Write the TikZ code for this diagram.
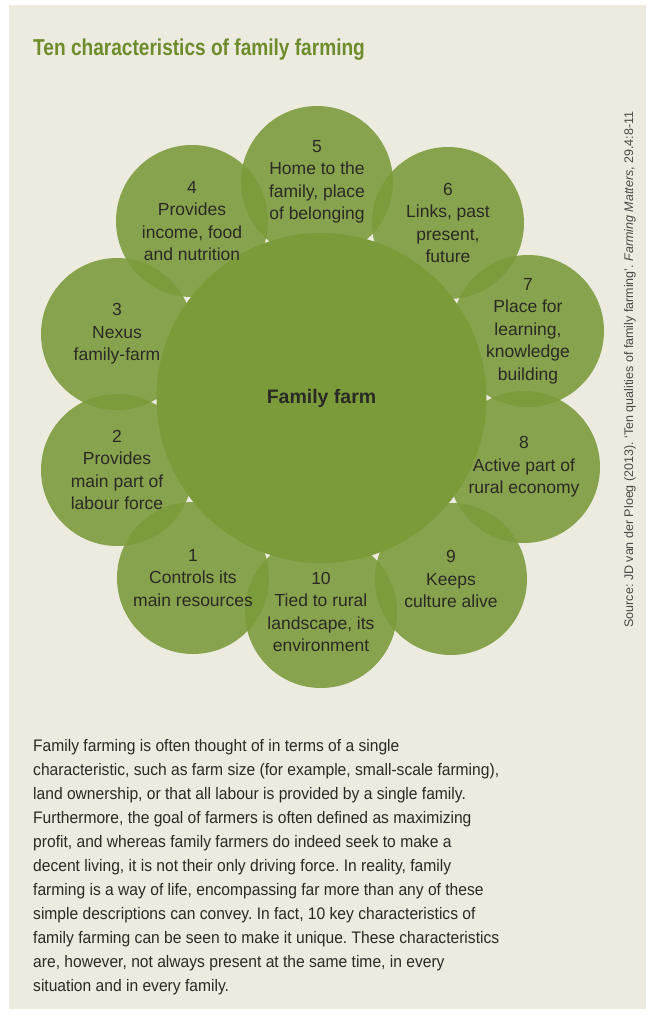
\documentclass[tikz,border=0pt]{standalone}
\usepackage{fontspec}
\setmainfont{Liberation Sans}
\newfontfamily\titlefont{Liberation Sans}[FakeStretch=0.83]
\newfontfamily\bodyfont{Liberation Sans}[FakeStretch=0.935]
\definecolor{panel}{HTML}{EDEBDF}
\definecolor{leaf}{HTML}{7B9A3A}
\definecolor{titlegreen}{HTML}{6F8C2C}
\definecolor{ink}{HTML}{2A2A25}
\tikzset{
  petal/.style={circle, fill=leaf, fill opacity=0.88, minimum size=152pt, inner sep=0pt},
  petaltext/.style={align=center, inner sep=0pt, text=ink, font=\fontsize{17.5}{22.5}\selectfont},
  hub/.style={circle, fill=leaf, minimum size=330pt, inner sep=0pt, text=ink, font=\bfseries\fontsize{19.5}{22}\selectfont},
  bodyline/.style={anchor=base west, inner sep=0pt, text=ink, font=\bodyfont\fontsize{16.7}{24}\selectfont},
  headline/.style={anchor=base west, inner sep=0pt, text=titlegreen, font=\titlefont\bfseries\fontsize{23}{26}\selectfont},
  sourcenote/.style={anchor=base, rotate=90, inner sep=0pt, text=ink!85, font=\fontsize{12.5}{14}\selectfont}
}
\frenchspacing
\begin{document}
\begin{tikzpicture}[x=1pt,y=-1pt]
\useasboundingbox (0,0) rectangle (646,1018);
\fill[white] (0,0) rectangle (646,1018);
\fill[panel] (9,5) rectangle (646,1009);
\node[headline] (title) at (33,55) {Ten characteristics of family farming};
% petals
\node[petal] (p5) at (317,182) {};
\node[petal] (p6) at (448,223) {};
\node[petal] (p7) at (528,331) {};
\node[petal] (p8) at (524,467) {};
\node[petal] (p9) at (451,579) {};
\node[petal] (p10) at (321,612) {};
\node[petal] (p1) at (193,578) {};
\node[petal] (p2) at (117,470) {};
\node[petal] (p3) at (117,334) {};
\node[petal] (p4) at (192,221) {};
% hub
\node[hub] (hub) at (321.5,398) {Family farm};
% petal labels
\node[petaltext] (t5) at (p5) {5\\Home to the\\family, place\\of belonging};
\node[petaltext] (t6) at (p6) {6\\Links, past\\present,\\future};
\node[petaltext] (t7) at (p7) {7\\Place for\\learning,\\knowledge\\building};
\node[petaltext] (t8) at (p8) {8\\Active part of\\rural economy};
\node[petaltext] (t9) at (p9) {9\\Keeps\\culture alive};
\node[petaltext] (t10) at (p10) {10\\Tied to rural\\landscape, its\\environment};
\node[petaltext] (t1) at (p1) {1\\Controls its\\main resources};
\node[petaltext] (t2) at (p2) {2\\Provides\\main part of\\labour force};
\node[petaltext] (t3) at (p3) {3\\Nexus\\family-farm};
\node[petaltext] (t4) at (p4) {4\\Provides\\income, food\\and nutrition};
% source
\node[sourcenote] (src) at (633,369.5) {Source: JD van der Ploeg (2013). ‘Ten qualities of family farming’. \textit{Farming Matters}, 29.4:8-11};
% body text
\foreach \i/\t in {
 1/{Family farming is often thought of in terms of a single},
 2/{characteristic, such as farm size (for example, small-scale farming),},
 3/{land ownership, or that all labour is provided by a single family.},
 4/{Furthermore, the goal of farmers is often defined as maximizing},
 5/{profit, and whereas family farmers do indeed seek to make a},
 6/{decent living, it is not their only driving force. In reality, family},
 7/{farming is a way of life, encompassing far more than any of these},
 8/{simple descriptions can convey. In fact, 10 key characteristics of},
 9/{family farming can be seen to make it unique. These characteristics},
 10/{are, however, not always present at the same time, in every},
 11/{situation and in every family.}}
 \node[bodyline] (line\i) at (33,727+24*\i) {\t};
\end{tikzpicture}
\end{document}
